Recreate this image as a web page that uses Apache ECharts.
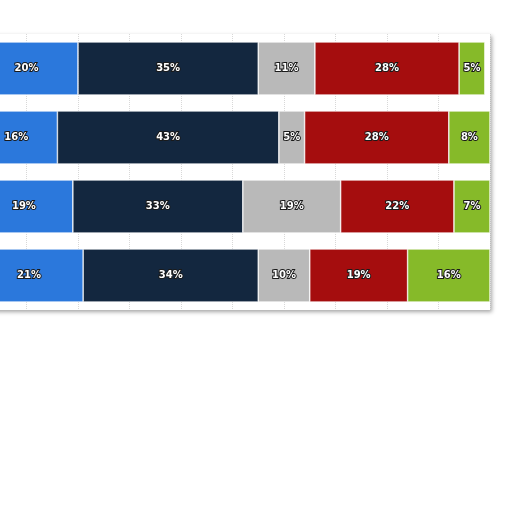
<!DOCTYPE html>
<html>
<head>
    <meta charset="utf-8">
    <title>Stacked shares</title>
    <script src="https://cdn.jsdelivr.net/npm/echarts@6/dist/echarts.min.js"></script>
    <style>
        html, body { margin: 0; padding: 0; background: #fff; overflow: hidden; }
        /* the reference is a crop: the left end of the bars is cut off */
        #main { position: absolute; left: -25px; top: 0; width: 537px; height: 512px; }
    </style>
</head>
<body>
<div id="main"></div>
<script>
    // rows, top to bottom (their labels are outside the visible crop)
    var categories = ['Row 1', 'Row 2', 'Row 3', 'Row 4'];
    // share of each segment per row, in percent
    var blueVals  = [20, 16, 19, 21];
    var navyVals  = [35, 43, 33, 34];
    var grayVals  = [11, 5, 19, 10];
    var redVals   = [28, 28, 22, 19];
    var greenVals = [5, 8, 7, 16];
    var xTicks = [0, 10, 20, 30, 40, 50, 60, 70, 80, 90, 100];

    var segments = [
        { name: 'Segment 1', data: blueVals,  color: '#2b78dc' },
        { name: 'Segment 2', data: navyVals,  color: '#13273f' },
        { name: 'Segment 3', data: grayVals,  color: '#b9b9b9' },
        { name: 'Segment 4', data: redVals,   color: '#a50d0e' },
        { name: 'Segment 5', data: greenVals, color: '#86ba29' }
    ];

    var myChart = echarts.init(document.getElementById('main'));
    var option = {
        animation: false,
        backgroundColor: '#fff',
        grid: {
            left: 0,
            right: 22,
            top: 34,
            bottom: 202,
            show: true,
            backgroundColor: '#fff',
            borderWidth: 0,
            shadowColor: 'rgba(0,0,0,0.35)',
            shadowBlur: 4,
            shadowOffsetX: 2,
            shadowOffsetY: 2
        },
        xAxis: {
            type: 'value',
            min: xTicks[0],
            max: xTicks[xTicks.length - 1],
            interval: 10,
            axisLabel: { show: false },
            axisLine: { show: false },
            axisTick: { show: false },
            splitLine: { lineStyle: { color: '#d8d8d8', type: 'dotted' } }
        },
        yAxis: {
            type: 'category',
            inverse: true,
            data: categories,
            axisLabel: { show: false },
            axisLine: { show: false },
            axisTick: { show: false }
        },
        series: segments.map(function (s) {
            return {
                name: s.name,
                type: 'bar',
                stack: 'total',
                barWidth: '77%',
                data: s.data,
                itemStyle: { color: s.color, borderColor: '#fff', borderWidth: 0.6 },
                label: {
                    show: true,
                    position: 'inside',
                    formatter: '{c}%',
                    color: '#fff',
                    fontFamily: 'DejaVu Sans',
                    fontWeight: 'bold',
                    fontSize: 10,
                    textBorderColor: '#1a1a1a',
                    textBorderWidth: 2
                }
            };
        })
    };
    myChart.setOption(option);
</script>
</body>
</html>
